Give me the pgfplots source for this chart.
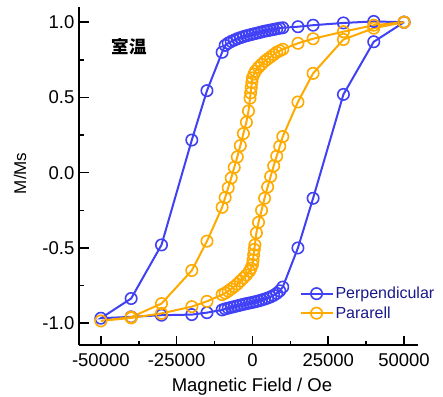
\documentclass[border=0pt]{standalone}
\usepackage{pgfplots}
\pgfplotsset{compat=1.18}
\usepackage{fontspec}
\setmainfont{Liberation Sans}
\newfontfamily\cjk{Noto Sans CJK JP}
\definecolor{pblue}{RGB}{64,64,245}
\definecolor{porange}{RGB}{255,170,0}
\definecolor{legtext}{RGB}{25,25,140}
\begin{document}
\begin{tikzpicture}
\begin{axis}[
 at={(0,0)}, anchor=south west,
 scale only axis, width=339pt, height=338pt,
 xmin=-57200, xmax=54600, ymin=-1.145, ymax=1.101,
 axis x line*=bottom, axis y line*=left,
 axis line style={line width=2pt, -},
 tick align=inside,
 xtick={-50000,-25000,0,25000,50000},
 ytick={-1,-0.5,0,0.5,1},
 minor x tick num=1, minor y tick num=1,
 major tick length=9.5pt, minor tick length=4.5pt,
 every tick/.style={black, line width=1.6pt},
 scaled x ticks=false,
 /pgf/number format/assume math mode=true,
 tick label style={font=\fontsize{18.5}{22}\selectfont},
 xticklabel style={yshift=-5.5pt, /pgf/number format/.cd, 1000 sep={}},
 yticklabel style={xshift=-1.1pt, /pgf/number format/.cd, fixed, fixed zerofill, precision=1},
 xlabel={Magnetic Field / Oe},
 ylabel={M/Ms},
 xlabel style={font=\fontsize{18.5}{22}\selectfont, at={(axis description cs:0.5103,0)}, anchor=north, yshift=-30pt},
 ylabel style={font=\fontsize{17}{20}\selectfont, at={(axis description cs:-0.174,0.508)}, anchor=center},
 legend style={draw=none, fill=none, at={(0.650,0.123)}, anchor=west, inner sep=0pt,
   font=\fontsize{16}{19}\selectfont, text=legtext, row sep=2.5pt},
 legend cell align=left,
 legend image code/.code={\draw[mark repeat=2, mark phase=2, #1] plot coordinates {(0pt,0pt)(16pt,0pt)(32pt,0pt)};},
 every axis plot/.append style={line width=2pt, mark=o, mark size=5.7pt, mark options={line width=1.6pt, fill=none}},
]
\addplot[pblue] coordinates {
(50000,1.0) (40000,1.005) (30000,0.995) (20000,0.98) (15000,0.97) (10000,0.963)
(9000,0.96) (8000,0.956) (7000,0.952) (6000,0.948) (5000,0.944) (4000,0.94)
(3000,0.935) (2000,0.93) (1000,0.925) (0,0.92) (-1000,0.915) (-2000,0.91)
(-3000,0.904) (-4000,0.897) (-5000,0.89) (-6000,0.881) (-7000,0.872) (-8000,0.861)
(-9000,0.846) (-10000,0.80) (-15000,0.545) (-20000,0.217) (-30000,-0.48) (-40000,-0.836)
(-50000,-0.967)
(-40000,-0.958) (-30000,-0.947) (-20000,-0.943) (-15000,-0.93) (-10000,-0.912)
(-9000,-0.905) (-8000,-0.9) (-7000,-0.895) (-6000,-0.89) (-5000,-0.885) (-4000,-0.88)
(-3000,-0.875) (-2000,-0.87) (-1000,-0.866) (0,-0.862) (1000,-0.857) (2000,-0.852)
(3000,-0.846) (4000,-0.84) (5000,-0.833) (6000,-0.825) (7000,-0.815) (8000,-0.802)
(9000,-0.785) (10000,-0.76) (15000,-0.50) (20000,-0.17) (30000,0.52) (40000,0.87)
(50000,1.0)
};
\addlegendentry{Perpendicular}
\addplot[porange] coordinates {
(50000,1.0) (40000,0.98) (30000,0.937) (20000,0.89) (15000,0.86) (10000,0.82)
(9000,0.81) (8000,0.80) (7000,0.785) (6000,0.77) (5000,0.755) (4000,0.74)
(3000,0.72) (2000,0.70) (1000,0.675) (500,0.655) (0,0.63) (-200,0.60)
(-400,0.565) (-600,0.53) (-800,0.495) (-1300,0.41) (-2000,0.335) (-3000,0.26)
(-4000,0.18) (-5000,0.105) (-6000,0.035) (-7000,-0.035) (-8000,-0.10) (-9000,-0.165)
(-10000,-0.23) (-15000,-0.455) (-20000,-0.65) (-30000,-0.87) (-40000,-0.96) (-50000,-0.985)
(-40000,-0.965) (-30000,-0.935) (-20000,-0.89) (-15000,-0.855) (-10000,-0.81)
(-9000,-0.80) (-8000,-0.787) (-7000,-0.772) (-6000,-0.757) (-5000,-0.74) (-4000,-0.72)
(-3000,-0.70) (-2000,-0.68) (-1000,-0.655) (-500,-0.635) (0,-0.61) (200,-0.58)
(400,-0.545) (600,-0.51) (800,-0.48) (1300,-0.40) (2000,-0.33) (3000,-0.25)
(4000,-0.17) (5000,-0.095) (6000,-0.025) (7000,0.045) (8000,0.11) (9000,0.175)
(10000,0.24) (15000,0.47) (20000,0.66) (30000,0.885) (40000,0.96) (50000,1.0)
};
\addlegendentry{Pararell}
\node[font=\cjk\bfseries\fontsize{17.5}{20}\selectfont] at (axis cs:-40650,0.835) {室温};
\end{axis}
\pgfresetboundingbox
\useasboundingbox (-79pt,-51pt) rectangle (364pt,345pt);
\end{tikzpicture}
\end{document}
